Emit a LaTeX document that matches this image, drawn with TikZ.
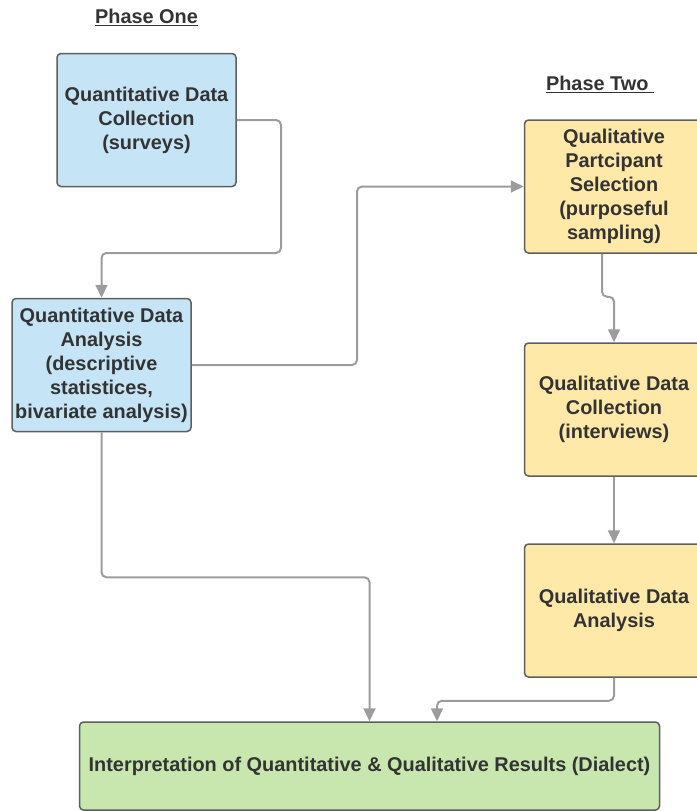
\documentclass[tikz,border=0pt]{standalone}
\usepackage{fontspec}
\setmainfont{Liberation Sans}
\usepackage{tikz}
\usetikzlibrary{arrows.meta}
\definecolor{quan}{HTML}{C5E4F6}
\definecolor{qual}{HTML}{FFE9A8}
\definecolor{mixd}{HTML}{C8E7AE}
\definecolor{rim}{HTML}{5E5E5E}
\definecolor{lgray}{HTML}{9C9C9C}
\definecolor{ink}{HTML}{333333}

\begin{document}
\begin{tikzpicture}[x=1pt,y=-1pt,
  main/.style = {draw=rim, line width=1.5pt, rounded corners=4pt, align=center, text=ink, inner sep=0pt,
    font=\bfseries\fontsize{19.9}{24}\selectfont, minimum width=179pt, minimum height=133pt},
  head/.style = {text=ink, inner sep=0pt, font=\bfseries\fontsize{19.9}{24}\selectfont},
  arr/.style = {draw=lgray, line width=2pt, rounded corners=5pt, -{Triangle[length=13pt,width=12pt]}},
  node distance=223pt]
\useasboundingbox (0,0) rectangle (696,811);
\node[head] (t1) at (146.5,17) {\underline{Phase One}};
\node[head] (t2) at (600,84) {\underline{Phase Two\ }};
\node[main] (1) [fill=quan] at (146.5,120) {Quantitative Data\\Collection\\(surveys)};
\node[main] (2) [fill=quan] at (101.5,365) {Quantitative Data\\Analysis\\(descriptive\\statistices,\\bivariate analysis)};
\node[main] (3) [fill=qual] at (614,186.5) {Qualitative\\Partcipant\\Selection\\(purposeful\\sampling)};
\node[main] (4) [fill=qual, below of=3] {Qualitative Data\\Collection\\(interviews)};
\node[main] (5) [fill=qual, below of=4, node distance=201pt] {Qualitative Data\\Analysis};
\node[main] (6) [fill=mixd, minimum width=580pt, minimum height=88pt] at (369.5,766) {Interpretation of Quantitative \& Qualitative Results (Dialect)};
\draw[arr] (1.east) -| (281,253) -| (2.north);
\draw[arr] (2.east) -- (357,365) |- (3.west);
\draw[arr] ([xshift=-12pt]3.south) -- ++(0,43) -| (4.north);
\draw[arr] (4) -- (5);
\draw[arr] (5.south) -- ++(0,23) -| ([xshift=67.5pt]6.north);
\draw[arr] (2.south) -- ++(0,145) -| (6.north);
\end{tikzpicture}
\end{document}
